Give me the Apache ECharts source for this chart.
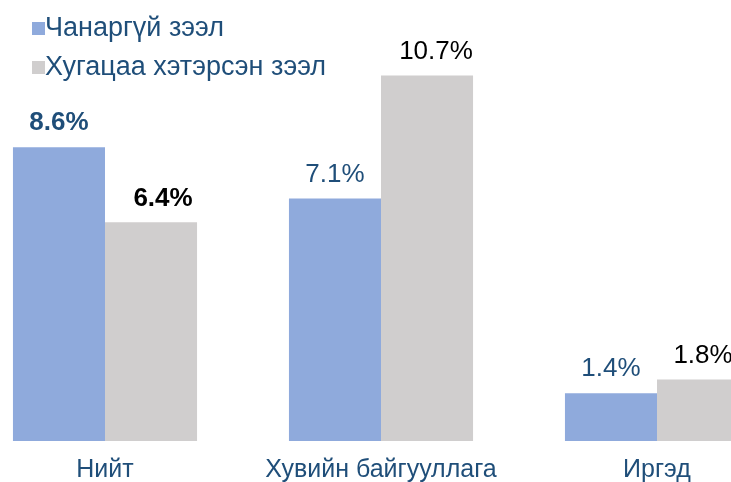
<!DOCTYPE html>
<html>
<head>
<meta charset="utf-8">
<script src="https://cdn.jsdelivr.net/npm/echarts@6/dist/echarts.min.js"></script>
<style>
  html, body { margin: 0; padding: 0; background: #fff; overflow: hidden; }
  /* the plot runs past both edges of the picture, so the canvas is wider and shifted */
  #chart { width: 828px; height: 482px; margin-left: -33px; }
</style>
</head>
<body>
<div id="chart"></div>
<script>
const categories = ["Нийт", "Хувийн байгууллага", "Иргэд"];
const seriesNames = ["Чанаргүй зээл", "Хугацаа хэтэрсэн зээл"];
const nonPerforming = [8.6, 7.1, 1.4];
const overdue = [6.4, 10.7, 1.8];

const darkBlue = "#1F4E79";
const font = "Liberation Sans, Arial, sans-serif";

// small nudges of the grey labels, as in the reference
const greyLabelShift = [[12, 0], [9, 0], [0, 0]];

function makeData(values, color, shifts) {
  // first category labels are bold in the reference
  return values.map((v, i) => ({
    value: v,
    label: {
      color: color,
      fontWeight: i === 0 ? "bold" : "normal",
      offset: shifts ? shifts[i] : [0, 0]
    }
  }));
}

const chart = echarts.init(document.getElementById("chart"));
chart.setOption({
  animation: false,
  textStyle: { fontFamily: font },
  legend: {
    orient: "vertical",
    left: 60,
    top: 10,
    icon: "rect",
    itemWidth: 13,
    itemHeight: 13,
    itemGap: 12,
    textStyle: { fontSize: 27, color: darkBlue, fontFamily: font, padding: [0, 0, 0, -5] },
    data: seriesNames
  },
  grid: { left: 0, right: 0, top: 31, bottom: 41, outerBoundsMode: "none", containLabel: false },
  xAxis: {
    type: "category",
    data: categories,
    axisLine: { show: false },
    axisTick: { show: false },
    axisLabel: { interval: 0, fontSize: 25, color: darkBlue, margin: 17, fontFamily: font }
  },
  yAxis: {
    type: "value",
    min: 0,
    max: 12,
    show: false,
    splitLine: { show: false }
  },
  series: [
    {
      name: seriesNames[0],
      type: "bar",
      barGap: "0%",
      barCategoryGap: "33.3%",
      itemStyle: { color: "#8FAADC" },
      label: {
        show: true,
        position: "top",
        distance: 11,
        fontSize: 26,
        fontFamily: font,
        formatter: p => p.value.toFixed(1) + "%"
      },
      data: makeData(nonPerforming, darkBlue, null)
    },
    {
      name: seriesNames[1],
      type: "bar",
      itemStyle: { color: "#D0CECE" },
      label: {
        show: true,
        position: "top",
        distance: 11,
        fontSize: 26,
        fontFamily: font,
        formatter: p => p.value.toFixed(1) + "%"
      },
      data: makeData(overdue, "#000", greyLabelShift)
    }
  ]
});
</script>
</body>
</html>
